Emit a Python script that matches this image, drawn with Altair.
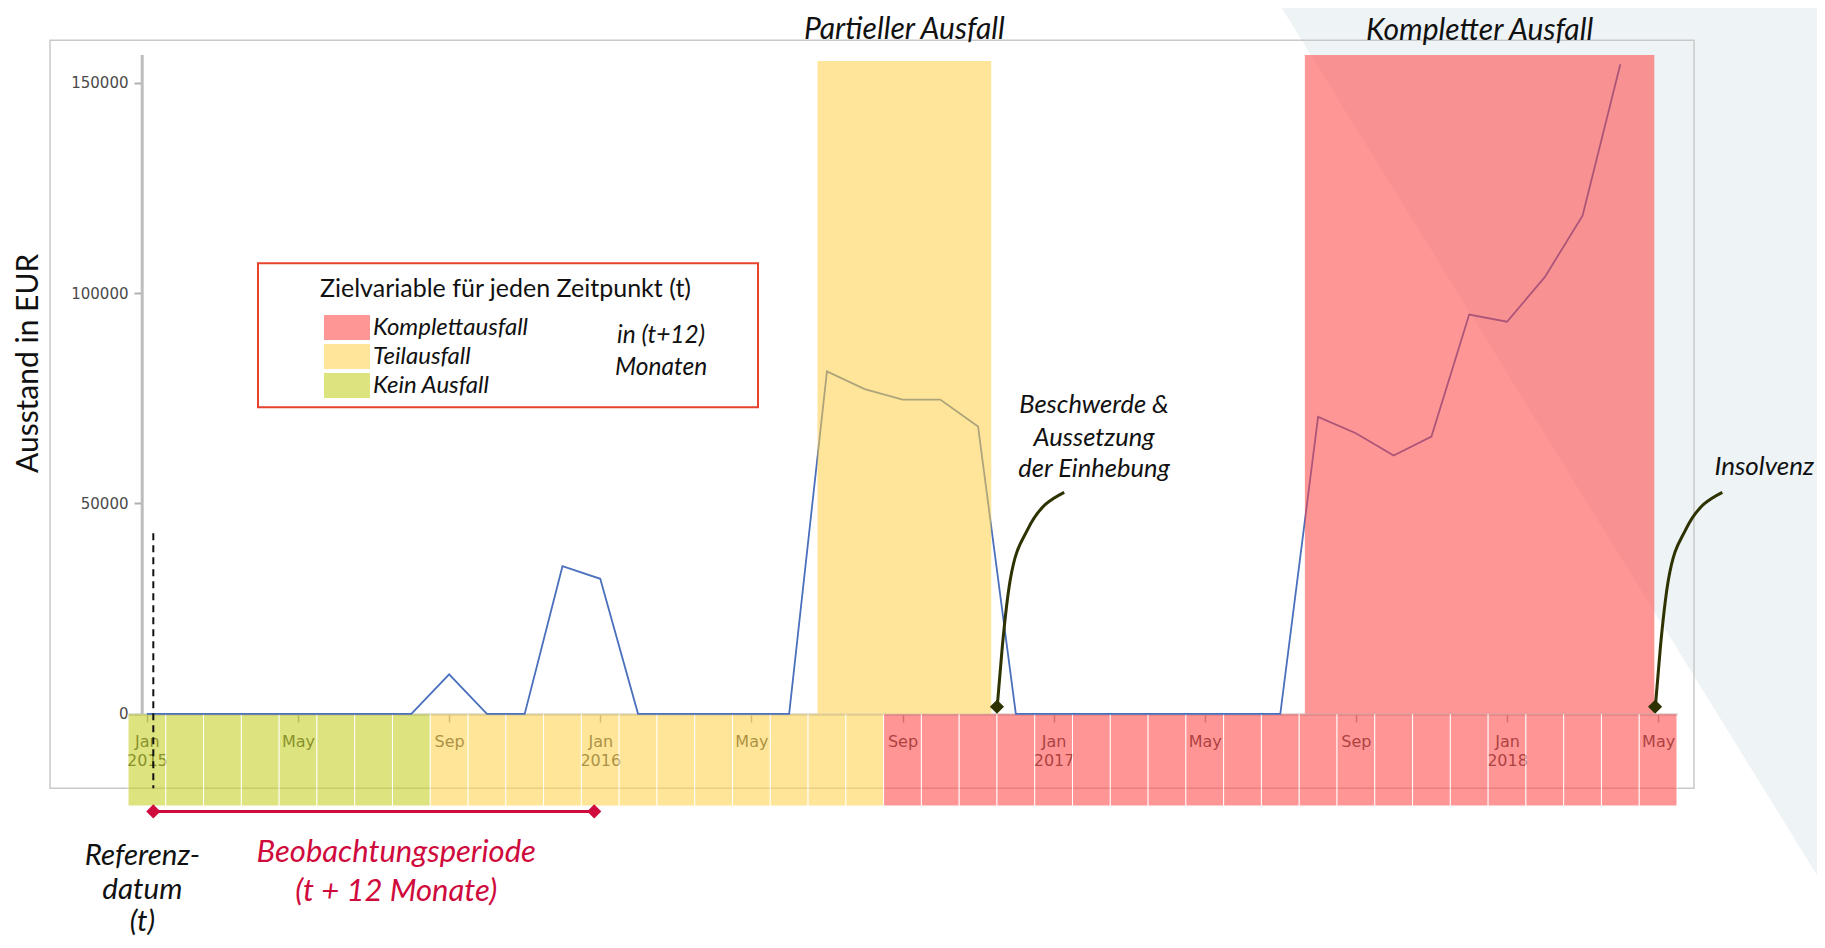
import json
import altair as alt
import pandas as pd

# ---------------- data ----------------
MONTH_NAMES = ["Jan", "Feb", "Mar", "Apr", "May", "Jun", "Jul", "Aug", "Sep", "Oct", "Nov", "Dec"]
months = [f"{MONTH_NAMES[i % 12]} {2015 + i // 12}" for i in range(41)]  # Jan 2015 .. May 2018

# Ausstand in EUR, monthly (Jan 2015 .. Apr 2018)
outstanding = [0, 0, 0, 0, 0, 0, 0, 0, 9400, 0, 0, 35100,
               32100, 0, 0, 0, 0, 0, 81400, 77200, 74700, 74700, 68300, 0,
               0, 0, 0, 0, 0, 0, 0, 70600, 66700, 61400, 65900, 94900,
               93200, 103800, 118400, 154400]

# Zielvariable per month (Jan 2015 .. May 2018)
strip_category = ["Kein Ausfall"] * 8 + ["Teilausfall"] * 12 + ["Komplettausfall"] * 21
categories = ["Komplettausfall", "Teilausfall", "Kein Ausfall"]
category_colors = ["#ff5050", "#ffd455", "#c5d22b"]

tick_values = [0, 4, 8, 12, 16, 20, 24, 28, 32, 36, 40]
tick_labels = [["Jan", "2015"], ["May"], ["Sep"], ["Jan", "2016"], ["May"], ["Sep"],
               ["Jan", "2017"], ["May"], ["Sep"], ["Jan", "2018"], ["May"]]
y_ticks = [0, 50000, 100000, 150000]

phase_names = ["Partieller Ausfall", "Kompletter Ausfall"]
phase_start = [17.75, 30.65]
phase_end = [22.35, 39.9]
phase_top = [155200, 156600]
phase_title_y = [162600, 162400]
phase_colors = ["#ffd046", "#ff4040"]

X_DOMAIN = [-0.5, 40.5]
Y_DOMAIN = [-21900, 156600]

# annotations (month index, EUR value)
note_lines = ["Beschwerde &", "Aussetzung", "der Einhebung"]
note_x = [25.07, 25.07, 25.07]
note_y = [73330, 65480, 58110]
insolvenz_text = ["Insolvenz"]
insolvenz_x = [42.81]
insolvenz_y = [58590]
ref_lines = ["Referenz-", "datum", "(t)"]
ref_x = [-0.12, -0.12, -0.12]
ref_y = [-33870, -41950, -49560]
obs_lines = ["Beobachtungsperiode", "(t + 12 Monate)"]
obs_x = [6.6, 6.6]
obs_y = [-33110, -42390]
horizon_lines = ["in (t+12)", "Monaten"]
horizon_x = [13.61, 13.61]
horizon_y = [89730, 82120]

curve_group = ["a"] * 5 + ["b"] * 5
curve_x = [22.51, 22.64, 22.85, 23.30, 24.28, 39.93, 40.06, 40.27, 40.72, 41.70]
curve_y = [2020, 15810, 31730, 43620, 52650, 2020, 15810, 31730, 43620, 52650]
event_x = [22.5, 39.92]
event_y = [1700, 1700]

ref_date_x = [0.17]
ref_line_top = [42900]
ref_line_bottom = [-17700]
period_start = [0.17]
period_end = [11.84]
period_y = [-23180]

axis_rule_x = [-0.124]

LINE_BLUE = "#4a70bd"
CALLOUT = "#2d3200"
CRIMSON = "#cf0a3c"
FONT = "Lato"

xs = alt.Scale(domain=X_DOMAIN, nice=False, zero=False)
ys = alt.Scale(domain=Y_DOMAIN, nice=False, zero=False)

label_expr = f"{json.dumps(tick_labels)}[indexof({json.dumps(tick_values)}, datum.value)]"
x_axis = alt.Axis(values=tick_values, labelExpr=label_expr, offset=-92, tickSize=8,
                  tickColor="#9a9a9a", tickWidth=1.5, domainColor="#a8a8a8", domainWidth=2,
                  labelFont="DejaVu Sans", labelFontSize=16, labelColor="#2e2e2e",
                  labelPadding=11, labelLineHeight=19, grid=False, labelFlush=False,
                  labelOverlap=False)
y_axis = alt.Axis(values=y_ticks, format="d", offset=-14, domain=False, tickSize=8,
                  tickColor="#b0b0b0", tickWidth=2, labelFont="DejaVu Sans",
                  labelFontSize=15, labelColor="#4a4a4a", labelPadding=6, grid=False)


def X(field):
    return alt.X(field, scale=xs, axis=x_axis, title=None)


def Y(field):
    return alt.Y(field, scale=ys, axis=y_axis, title=None)


one = pd.DataFrame({"k": [0]})

# ---------------- background decoration ----------------
triangle = alt.Chart(one).mark_point(
    shape="M-0.234,-1L1,-1L1,1Z", filled=True, fill="#eef3f6", strokeWidth=0,
    opacity=1, size=788544, clip=False
).encode(x=alt.value(1253), y=alt.value(389.3))

frame = alt.Chart(one).mark_rect(
    fillOpacity=0, stroke="#c9c9c9", strokeWidth=1.5, clip=False
).encode(x=alt.value(-78), x2=alt.value(1566), y=alt.value(-14.7), y2=alt.value(733.3))

# ---------------- strip (Zielvariable) ----------------
strip_df = pd.DataFrame({"idx": list(range(41)), "month": months, "category": strip_category})

legend = alt.Legend(orient="none", legendX=192, legendY=222,
                    title="Zielvariable für jeden Zeitpunkt (t)", titleFont=FONT,
                    titleFontSize=25, titleFontWeight="normal", titleColor="#111111",
                    titlePadding=13, titleLimit=800, labelFont=FONT, labelFontStyle="italic",
                    labelFontSize=24, labelColor="#111111", labelLimit=400,
                    symbolType="M-1,-1H2.68V1H-1Z", symbolSize=625, symbolStrokeWidth=0,
                    symbolOpacity=0.6, symbolOffset=4, labelOffset=24, rowPadding=4,
                    padding=0)

strip = alt.Chart(strip_df).mark_rect(
    opacity=0.6, stroke="white", strokeWidth=1, clip=False
).transform_calculate(
    lo="datum.idx - 0.5", hi="datum.idx + 0.5", top="0", bottom=str(Y_DOMAIN[0])
).encode(
    x=X("lo:Q"),
    x2="hi:Q",
    y=Y("top:Q"),
    y2="bottom:Q",
    color=alt.Color("category:N", scale=alt.Scale(domain=categories, range=category_colors),
                    legend=legend),
)

# ---------------- y axis line ----------------
axis_df = pd.DataFrame({"x": axis_rule_x, "y0": [0], "y1": [Y_DOMAIN[1]]})
y_axis_rule = alt.Chart(axis_df).mark_rule(color="#bdbdbd", strokeWidth=3).encode(
    x=X("x:Q"), y=Y("y0:Q"), y2="y1:Q")

# ---------------- data line ----------------
line_df = pd.DataFrame({"idx": list(range(40)), "month": months[:40], "value": outstanding})
line = alt.Chart(line_df).mark_line(color=LINE_BLUE, strokeWidth=1.8).encode(
    x=X("idx:Q"), y=Y("value:Q"))

# ---------------- phase overlays ----------------
phase_df = pd.DataFrame({"name": phase_names, "start": phase_start, "end": phase_end,
                         "base": [0, 0], "top": phase_top, "ty": phase_title_y,
                         "fill": phase_colors})
overlays = [
    alt.Chart(phase_df).transform_filter(alt.datum.name == n).mark_rect(
        color=c, opacity=0.55, clip=False
    ).encode(x=X("start:Q"), x2="end:Q", y=Y("base:Q"), y2="top:Q")
    for n, c in zip(phase_names, phase_colors)
]

phase_titles = alt.Chart(phase_df).transform_calculate(
    mid="(datum.start + datum.end) / 2"
).mark_text(font=FONT, fontStyle="italic", fontSize=30, color="#111111",
            baseline="middle", clip=False).encode(x=X("mid:Q"), y=Y("ty:Q"), text="name:N")

# ---------------- reference markers ----------------
dash_df = pd.DataFrame({"x": ref_date_x, "y0": ref_line_top, "y1": ref_line_bottom})
dashed = alt.Chart(dash_df).mark_rule(color="#111111", strokeWidth=2, strokeDash=[7, 5],
                                      clip=False).encode(x=X("x:Q"), y=Y("y0:Q"), y2="y1:Q")

period_df = pd.DataFrame({"x0": period_start, "x1": period_end, "y": period_y})
period = alt.Chart(period_df).mark_rule(color=CRIMSON, strokeWidth=3, clip=False).encode(
    x=X("x0:Q"), x2="x1:Q", y=Y("y:Q"))
period_pts_df = pd.DataFrame({"x": period_start + period_end, "y": period_y * 2})
period_pts = alt.Chart(period_pts_df).mark_point(
    shape="diamond", filled=True, color=CRIMSON, size=200, opacity=1, clip=False
).encode(x=X("x:Q"), y=Y("y:Q"))

curve_df = pd.DataFrame({"g": curve_group, "x": curve_x, "y": curve_y})
curves = alt.Chart(curve_df).mark_line(
    interpolate="monotone", color=CALLOUT, strokeWidth=3, clip=False
).encode(x=X("x:Q"), y=Y("y:Q"), detail="g:N")

event_df = pd.DataFrame({"x": event_x, "y": event_y})
events = alt.Chart(event_df).mark_point(
    shape="diamond", filled=True, color=CALLOUT, size=200, opacity=1, clip=False
).encode(x=X("x:Q"), y=Y("y:Q"))

# ---------------- legend box ----------------
legend_box = alt.Chart(one).mark_rect(
    fillOpacity=0, stroke="#e8412c", strokeWidth=2, clip=False
).encode(x=alt.value(130), x2=alt.value(630), y=alt.value(208.3), y2=alt.value(352.3))


# ---------------- texts ----------------
def text_layer(texts, xv, yv, size, color="#111111", style="italic", angle=0):
    df = pd.DataFrame({"text": texts, "x": xv, "y": yv})
    return alt.Chart(df).mark_text(
        font=FONT, fontStyle=style, fontSize=size, color=color, baseline="middle",
        align="center", angle=angle, clip=False
    ).encode(x=X("x:Q"), y=Y("y:Q"), text="text:N")


texts = [
    text_layer(note_lines, note_x, note_y, 25.5),
    text_layer(insolvenz_text, insolvenz_x, insolvenz_y, 26),
    text_layer(ref_lines, ref_x, ref_y, 29.5),
    text_layer(obs_lines, obs_x, obs_y, 31, color=CRIMSON),
    text_layer(horizon_lines, horizon_x, horizon_y, 24.5),
    text_layer(["Ausstand in EUR"], [-3.115], [83310], 30, style="normal", angle=270),
]

chart = alt.layer(
    triangle, frame, strip, y_axis_rule, line, *overlays, phase_titles,
    dashed, period, period_pts, curves, events, legend_box, *texts
).properties(
    width=1549, height=751,
    padding={"left": 120, "top": 47, "right": 140, "bottom": 134},
    autosize=alt.AutoSizeParams(type="none"),
    background="white",
).configure_view(strokeWidth=0)

chart.save("out.html", embed_options={"renderer": "svg", "actions": False})
